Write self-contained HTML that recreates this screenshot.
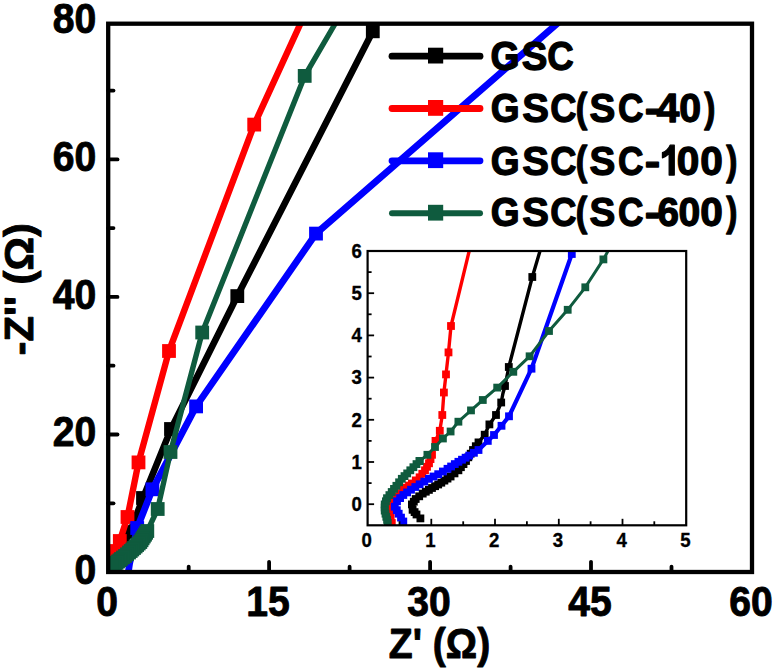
<!DOCTYPE html>
<html><head><meta charset="utf-8"><title>Nyquist plot</title>
<style>
html,body{margin:0;padding:0;background:#fff;}
body{width:774px;height:669px;overflow:hidden;}
svg{display:block;}
text{font-family:"Liberation Sans",sans-serif;font-weight:bold;fill:#000;}
</style></head><body>
<svg width="774" height="669" viewBox="0 0 774 669">
<rect width="774" height="669" fill="#fff"/>
<defs>
<clipPath id="cm"><rect x="108.2" y="23.7" width="643.8" height="548.3"/></clipPath>
<clipPath id="ci"><rect x="367.6" y="251.0" width="318.6" height="274.29999999999995"/></clipPath>
</defs>

<g clip-path="url(#cm)">
<polyline points="392.0,-6.2 372.8,31.3 237.3,296.1 171.0,429.0 143.0,498.0 130.0,532.0 122.0,548.0 117.0,557.0 113.0,563.0 111.0,567.0" fill="none" stroke="#000000" stroke-width="6.6" stroke-linejoin="round"/>
<rect x="365.9" y="24.4" width="13.8" height="13.8" fill="#000000"/>
<rect x="230.4" y="289.2" width="13.8" height="13.8" fill="#000000"/>
<rect x="164.1" y="422.1" width="13.8" height="13.8" fill="#000000"/>
<rect x="136.1" y="491.1" width="13.8" height="13.8" fill="#000000"/>
<rect x="123.1" y="525.1" width="13.8" height="13.8" fill="#000000"/>
<rect x="115.1" y="541.1" width="13.8" height="13.8" fill="#000000"/>
<rect x="110.1" y="550.1" width="13.8" height="13.8" fill="#000000"/>
<rect x="106.1" y="556.1" width="13.8" height="13.8" fill="#000000"/>
<polyline points="311.0,-4.0 300.3,24.0 254.2,124.6 169.0,351.0 138.5,462.4 127.5,517.0 119.8,541.0 116.0,551.0 113.0,558.0 111.0,563.0 109.5,567.0" fill="none" stroke="#ff0000" stroke-width="6.4" stroke-linejoin="round"/>
<rect x="247.3" y="117.7" width="13.8" height="13.8" fill="#ff0000"/>
<rect x="162.1" y="344.1" width="13.8" height="13.8" fill="#ff0000"/>
<rect x="131.6" y="455.5" width="13.8" height="13.8" fill="#ff0000"/>
<rect x="120.6" y="510.1" width="13.8" height="13.8" fill="#ff0000"/>
<rect x="112.9" y="534.1" width="13.8" height="13.8" fill="#ff0000"/>
<rect x="109.1" y="544.1" width="13.8" height="13.8" fill="#ff0000"/>
<rect x="106.1" y="551.1" width="13.8" height="13.8" fill="#ff0000"/>
<polyline points="601.5,-15.0 558.5,22.5 316.0,233.6 196.1,406.4 152.4,489.3 137.2,528.0 132.5,550.0 129.5,564.0 127.5,578.0" fill="none" stroke="#0000ff" stroke-width="6.8" stroke-linejoin="round"/>
<rect x="309.1" y="226.7" width="13.8" height="13.8" fill="#0000ff"/>
<rect x="189.2" y="399.5" width="13.8" height="13.8" fill="#0000ff"/>
<rect x="145.5" y="482.4" width="13.8" height="13.8" fill="#0000ff"/>
<rect x="130.3" y="521.1" width="13.8" height="13.8" fill="#0000ff"/>
<polyline points="345.0,-1.0 335.0,24.0 304.7,75.9 202.2,332.5 170.5,452.0 157.7,509.0 147.3,531.0 140.3,542.0 134.0,548.0 129.0,552.5 125.0,556.0 121.0,559.0 118.0,561.5 115.0,564.0 112.0,566.5 110.0,568.5" fill="none" stroke="#0f5b3e" stroke-width="5.4" stroke-linejoin="round"/>
<rect x="297.8" y="69.0" width="13.8" height="13.8" fill="#0f5b3e"/>
<rect x="195.3" y="325.6" width="13.8" height="13.8" fill="#0f5b3e"/>
<rect x="163.6" y="445.1" width="13.8" height="13.8" fill="#0f5b3e"/>
<rect x="150.8" y="502.1" width="13.8" height="13.8" fill="#0f5b3e"/>
<rect x="140.4" y="524.1" width="13.8" height="13.8" fill="#0f5b3e"/>
<rect x="139.2" y="525.9" width="13.8" height="13.8" fill="#0f5b3e"/>
<rect x="138.1" y="527.8" width="13.8" height="13.8" fill="#0f5b3e"/>
<rect x="136.9" y="529.6" width="13.8" height="13.8" fill="#0f5b3e"/>
<rect x="135.7" y="531.4" width="13.8" height="13.8" fill="#0f5b3e"/>
<rect x="134.6" y="533.3" width="13.8" height="13.8" fill="#0f5b3e"/>
<rect x="133.4" y="535.1" width="13.8" height="13.8" fill="#0f5b3e"/>
<rect x="131.8" y="536.6" width="13.8" height="13.8" fill="#0f5b3e"/>
<rect x="130.2" y="538.1" width="13.8" height="13.8" fill="#0f5b3e"/>
<rect x="128.7" y="539.6" width="13.8" height="13.8" fill="#0f5b3e"/>
<rect x="127.1" y="541.1" width="13.8" height="13.8" fill="#0f5b3e"/>
<rect x="125.4" y="542.6" width="13.8" height="13.8" fill="#0f5b3e"/>
<rect x="123.8" y="544.1" width="13.8" height="13.8" fill="#0f5b3e"/>
<rect x="122.1" y="545.6" width="13.8" height="13.8" fill="#0f5b3e"/>
<rect x="120.1" y="547.4" width="13.8" height="13.8" fill="#0f5b3e"/>
<rect x="118.1" y="549.1" width="13.8" height="13.8" fill="#0f5b3e"/>
<rect x="116.1" y="550.6" width="13.8" height="13.8" fill="#0f5b3e"/>
<rect x="114.1" y="552.1" width="13.8" height="13.8" fill="#0f5b3e"/>
<rect x="112.6" y="553.4" width="13.8" height="13.8" fill="#0f5b3e"/>
<rect x="111.1" y="554.6" width="13.8" height="13.8" fill="#0f5b3e"/>
<rect x="109.6" y="555.9" width="13.8" height="13.8" fill="#0f5b3e"/>
<rect x="108.1" y="557.1" width="13.8" height="13.8" fill="#0f5b3e"/>
<rect x="106.6" y="558.4" width="13.8" height="13.8" fill="#0f5b3e"/>
<rect x="105.1" y="559.6" width="13.8" height="13.8" fill="#0f5b3e"/>
</g>
<g stroke="#000" stroke-width="3.8" stroke-linecap="round">
<line x1="269.1" y1="572.0" x2="269.1" y2="561.8"/>
<line x1="430.1" y1="572.0" x2="430.1" y2="561.8"/>
<line x1="591.0" y1="572.0" x2="591.0" y2="561.8"/>
<line x1="188.7" y1="572.0" x2="188.7" y2="566.7"/>
<line x1="349.6" y1="572.0" x2="349.6" y2="566.7"/>
<line x1="510.6" y1="572.0" x2="510.6" y2="566.7"/>
<line x1="671.5" y1="572.0" x2="671.5" y2="566.7"/>
<line x1="108.2" y1="434.5" x2="117.5" y2="434.5"/>
<line x1="108.2" y1="296.9" x2="117.5" y2="296.9"/>
<line x1="108.2" y1="159.4" x2="117.5" y2="159.4"/>
<line x1="108.2" y1="503.3" x2="113.5" y2="503.3"/>
<line x1="108.2" y1="365.7" x2="113.5" y2="365.7"/>
<line x1="108.2" y1="228.1" x2="113.5" y2="228.1"/>
<line x1="108.2" y1="90.6" x2="113.5" y2="90.6"/>
</g>
<rect x="108.2" y="23.7" width="643.8" height="548.3" fill="none" stroke="#000" stroke-width="4.3"/>
<text transform="translate(107.2,616.0) scale(0.94,1)" font-size="41.6" text-anchor="middle" stroke="#000" stroke-width="0.9" stroke-linejoin="round">0</text>
<text transform="translate(268.1,616.0) scale(0.94,1)" font-size="41.6" text-anchor="middle" stroke="#000" stroke-width="0.9" stroke-linejoin="round">15</text>
<text transform="translate(429.1,616.0) scale(0.94,1)" font-size="41.6" text-anchor="middle" stroke="#000" stroke-width="0.9" stroke-linejoin="round">30</text>
<text transform="translate(590.0,616.0) scale(0.94,1)" font-size="41.6" text-anchor="middle" stroke="#000" stroke-width="0.9" stroke-linejoin="round">45</text>
<text transform="translate(751.0,616.0) scale(0.94,1)" font-size="41.6" text-anchor="middle" stroke="#000" stroke-width="0.9" stroke-linejoin="round">60</text>
<text transform="translate(96.3,583.6) scale(0.94,1)" font-size="41.6" text-anchor="end" stroke="#000" stroke-width="0.9" stroke-linejoin="round">0</text>
<text transform="translate(96.3,446.1) scale(0.94,1)" font-size="41.6" text-anchor="end" stroke="#000" stroke-width="0.9" stroke-linejoin="round">20</text>
<text transform="translate(96.3,308.5) scale(0.94,1)" font-size="41.6" text-anchor="end" stroke="#000" stroke-width="0.9" stroke-linejoin="round">40</text>
<text transform="translate(96.3,171.0) scale(0.94,1)" font-size="41.6" text-anchor="end" stroke="#000" stroke-width="0.9" stroke-linejoin="round">60</text>
<text transform="translate(96.3,33.4) scale(0.94,1)" font-size="41.6" text-anchor="end" stroke="#000" stroke-width="0.9" stroke-linejoin="round">80</text>
<text transform="translate(439.5,658.0) scale(0.94,1)" font-size="41.6" text-anchor="middle" stroke="#000" stroke-width="0.9" stroke-linejoin="round">Z' (&#937;)</text>
<text transform="translate(32.5,289.3) rotate(-90) scale(1.005,1)" font-size="41.6" text-anchor="middle" stroke="#000" stroke-width="0.9" stroke-linejoin="round">-Z'' (&#937;)</text>
<line x1="392" y1="56.2" x2="480" y2="56.2" stroke="#000000" stroke-width="6.8" stroke-linecap="round"/>
<rect x="428.0" y="47.7" width="15.2" height="15.8" fill="#000000"/>
<text transform="translate(490.57,69.50) scale(0.9027,1)" font-size="41.5" stroke="#000" stroke-width="1.3" stroke-linejoin="round">G</text>
<text transform="translate(521.67,69.50) scale(0.9265,1)" font-size="41.5" stroke="#000" stroke-width="1.3" stroke-linejoin="round">S</text>
<text transform="translate(547.34,69.50) scale(0.8847,1)" font-size="41.5" stroke="#000" stroke-width="1.3" stroke-linejoin="round">C</text>
<line x1="392" y1="108.5" x2="480" y2="108.5" stroke="#ff0000" stroke-width="6.8" stroke-linecap="round"/>
<rect x="428.0" y="100.0" width="15.2" height="15.8" fill="#ff0000"/>
<text transform="translate(490.86,122.20) scale(0.8942,1)" font-size="41.5" stroke="#000" stroke-width="1.3" stroke-linejoin="round">G</text>
<text transform="translate(522.25,122.20) scale(0.9651,1)" font-size="41.5" stroke="#000" stroke-width="1.3" stroke-linejoin="round">S</text>
<text transform="translate(550.13,122.20) scale(0.8758,1)" font-size="41.5" stroke="#000" stroke-width="1.3" stroke-linejoin="round">C</text>
<text transform="translate(575.65,122.20) scale(0.8325,1)" font-size="41.5" stroke="#000" stroke-width="1.3" stroke-linejoin="round">(</text>
<text transform="translate(589.39,122.20) scale(0.9329,1)" font-size="41.5" stroke="#000" stroke-width="1.3" stroke-linejoin="round">S</text>
<text transform="translate(617.99,122.20) scale(0.8522,1)" font-size="41.5" stroke="#000" stroke-width="1.3" stroke-linejoin="round">C</text>
<text transform="translate(644.68,122.20) scale(1.1199,1)" font-size="41.5" stroke="#000" stroke-width="1.3" stroke-linejoin="round">-</text>
<text transform="translate(656.56,122.20) scale(0.9909,1)" font-size="41.5" stroke="#000" stroke-width="1.3" stroke-linejoin="round">4</text>
<text transform="translate(679.31,122.20) scale(0.9459,1)" font-size="41.5" stroke="#000" stroke-width="1.3" stroke-linejoin="round">0</text>
<text transform="translate(704.30,122.20) scale(0.8052,1)" font-size="41.5" stroke="#000" stroke-width="1.3" stroke-linejoin="round">)</text>
<line x1="392" y1="160.8" x2="480" y2="160.8" stroke="#0000ff" stroke-width="6.8" stroke-linecap="round"/>
<rect x="428.0" y="152.3" width="15.2" height="15.8" fill="#0000ff"/>
<text transform="translate(490.86,174.70) scale(0.8942,1)" font-size="41.5" stroke="#000" stroke-width="1.3" stroke-linejoin="round">G</text>
<text transform="translate(522.25,174.70) scale(0.9651,1)" font-size="41.5" stroke="#000" stroke-width="1.3" stroke-linejoin="round">S</text>
<text transform="translate(550.13,174.70) scale(0.8758,1)" font-size="41.5" stroke="#000" stroke-width="1.3" stroke-linejoin="round">C</text>
<text transform="translate(575.65,174.70) scale(0.8325,1)" font-size="41.5" stroke="#000" stroke-width="1.3" stroke-linejoin="round">(</text>
<text transform="translate(589.39,174.70) scale(0.9329,1)" font-size="41.5" stroke="#000" stroke-width="1.3" stroke-linejoin="round">S</text>
<text transform="translate(617.99,174.70) scale(0.8522,1)" font-size="41.5" stroke="#000" stroke-width="1.3" stroke-linejoin="round">C</text>
<text transform="translate(644.68,174.70) scale(1.1199,1)" font-size="41.5" stroke="#000" stroke-width="1.3" stroke-linejoin="round">-</text>
<path transform="translate(659.41,175.00) scale(0.01848,-0.02026)" d="M806 0H525V1059Q371 915 162 846V1101Q272 1137 401 1237.5Q530 1338 578 1472H806Z" fill="#000" stroke="#000" stroke-width="62" stroke-linejoin="round"/>
<text transform="translate(676.84,174.70) scale(0.9783,1)" font-size="41.5" stroke="#000" stroke-width="1.3" stroke-linejoin="round">0</text>
<text transform="translate(700.34,174.70) scale(0.9783,1)" font-size="41.5" stroke="#000" stroke-width="1.3" stroke-linejoin="round">0</text>
<text transform="translate(726.20,174.70) scale(0.8052,1)" font-size="41.5" stroke="#000" stroke-width="1.3" stroke-linejoin="round">)</text>
<line x1="392" y1="213.3" x2="480" y2="213.3" stroke="#0f5b3e" stroke-width="6.0" stroke-linecap="round"/>
<rect x="428.0" y="204.8" width="15.2" height="15.8" fill="#0f5b3e"/>
<text transform="translate(490.86,225.80) scale(0.8942,1)" font-size="41.5" stroke="#000" stroke-width="1.3" stroke-linejoin="round">G</text>
<text transform="translate(522.25,225.80) scale(0.9651,1)" font-size="41.5" stroke="#000" stroke-width="1.3" stroke-linejoin="round">S</text>
<text transform="translate(550.13,225.80) scale(0.8758,1)" font-size="41.5" stroke="#000" stroke-width="1.3" stroke-linejoin="round">C</text>
<text transform="translate(575.65,225.80) scale(0.8325,1)" font-size="41.5" stroke="#000" stroke-width="1.3" stroke-linejoin="round">(</text>
<text transform="translate(589.39,225.80) scale(0.9329,1)" font-size="41.5" stroke="#000" stroke-width="1.3" stroke-linejoin="round">S</text>
<text transform="translate(617.99,225.80) scale(0.8522,1)" font-size="41.5" stroke="#000" stroke-width="1.3" stroke-linejoin="round">C</text>
<text transform="translate(644.68,225.80) scale(1.1199,1)" font-size="41.5" stroke="#000" stroke-width="1.3" stroke-linejoin="round">-</text>
<text transform="translate(657.61,225.80) scale(0.9297,1)" font-size="41.5" stroke="#000" stroke-width="1.3" stroke-linejoin="round">6</text>
<text transform="translate(678.51,225.80) scale(0.9419,1)" font-size="41.5" stroke="#000" stroke-width="1.3" stroke-linejoin="round">0</text>
<text transform="translate(700.34,225.80) scale(0.9783,1)" font-size="41.5" stroke="#000" stroke-width="1.3" stroke-linejoin="round">0</text>
<text transform="translate(726.20,225.80) scale(0.8052,1)" font-size="41.5" stroke="#000" stroke-width="1.3" stroke-linejoin="round">)</text>
<g clip-path="url(#ci)">
<polyline points="545.0,234.0 540.0,251.0 532.3,277.0 508.8,367.0 505.0,386.0 502.9,393.5 501.2,402.5 496.0,415.0 489.4,424.4 484.7,434.7 478.5,442.4 473.0,450.0 466.0,461.0 458.4,470.3 450.6,476.5 441.3,482.7 432.0,488.0 422.7,493.6 415.7,499.0 411.9,504.4 412.6,509.8 416.5,514.5 420.4,518.4" fill="none" stroke="#000000" stroke-width="3.4" stroke-linejoin="round"/>
<rect x="528.4" y="273.1" width="7.8" height="7.8" fill="#000000"/>
<rect x="504.9" y="363.1" width="7.8" height="7.8" fill="#000000"/>
<rect x="501.1" y="382.1" width="7.8" height="7.8" fill="#000000"/>
<rect x="497.3" y="398.6" width="7.8" height="7.8" fill="#000000"/>
<rect x="492.1" y="411.1" width="7.8" height="7.8" fill="#000000"/>
<rect x="485.5" y="420.5" width="7.8" height="7.8" fill="#000000"/>
<rect x="480.8" y="430.8" width="7.8" height="7.8" fill="#000000"/>
<rect x="474.6" y="438.5" width="7.8" height="7.8" fill="#000000"/>
<rect x="471.9" y="442.3" width="7.8" height="7.8" fill="#000000"/>
<rect x="469.1" y="446.1" width="7.8" height="7.8" fill="#000000"/>
<rect x="466.8" y="449.8" width="7.8" height="7.8" fill="#000000"/>
<rect x="464.4" y="453.4" width="7.8" height="7.8" fill="#000000"/>
<rect x="462.1" y="457.1" width="7.8" height="7.8" fill="#000000"/>
<rect x="459.6" y="460.2" width="7.8" height="7.8" fill="#000000"/>
<rect x="457.0" y="463.3" width="7.8" height="7.8" fill="#000000"/>
<rect x="454.5" y="466.4" width="7.8" height="7.8" fill="#000000"/>
<rect x="450.6" y="469.5" width="7.8" height="7.8" fill="#000000"/>
<rect x="446.7" y="472.6" width="7.8" height="7.8" fill="#000000"/>
<rect x="443.6" y="474.7" width="7.8" height="7.8" fill="#000000"/>
<rect x="440.5" y="476.7" width="7.8" height="7.8" fill="#000000"/>
<rect x="437.4" y="478.8" width="7.8" height="7.8" fill="#000000"/>
<rect x="434.3" y="480.6" width="7.8" height="7.8" fill="#000000"/>
<rect x="431.2" y="482.3" width="7.8" height="7.8" fill="#000000"/>
<rect x="428.1" y="484.1" width="7.8" height="7.8" fill="#000000"/>
<rect x="425.0" y="486.0" width="7.8" height="7.8" fill="#000000"/>
<rect x="421.9" y="487.8" width="7.8" height="7.8" fill="#000000"/>
<rect x="418.8" y="489.7" width="7.8" height="7.8" fill="#000000"/>
<rect x="415.3" y="492.4" width="7.8" height="7.8" fill="#000000"/>
<rect x="411.8" y="495.1" width="7.8" height="7.8" fill="#000000"/>
<rect x="409.9" y="497.8" width="7.8" height="7.8" fill="#000000"/>
<rect x="408.0" y="500.5" width="7.8" height="7.8" fill="#000000"/>
<rect x="408.7" y="505.9" width="7.8" height="7.8" fill="#000000"/>
<rect x="410.7" y="508.2" width="7.8" height="7.8" fill="#000000"/>
<rect x="412.6" y="510.6" width="7.8" height="7.8" fill="#000000"/>
<rect x="416.5" y="514.5" width="7.8" height="7.8" fill="#000000"/>
<polyline points="473.3,234.0 469.2,251.0 451.0,326.0 448.5,352.4 446.0,374.4 443.9,392.5 442.3,415.0 439.8,430.8 435.5,440.9 432.0,454.8 429.0,463.3 425.0,470.3 419.6,477.3 411.9,483.5 403.3,489.7 397.0,496.7 391.2,504.4 390.0,512.0 390.6,518.0 391.8,523.0" fill="none" stroke="#ff0000" stroke-width="3.4" stroke-linejoin="round"/>
<rect x="447.1" y="322.1" width="7.8" height="7.8" fill="#ff0000"/>
<rect x="444.6" y="348.5" width="7.8" height="7.8" fill="#ff0000"/>
<rect x="442.1" y="370.5" width="7.8" height="7.8" fill="#ff0000"/>
<rect x="440.0" y="388.6" width="7.8" height="7.8" fill="#ff0000"/>
<rect x="438.4" y="411.1" width="7.8" height="7.8" fill="#ff0000"/>
<rect x="435.9" y="426.9" width="7.8" height="7.8" fill="#ff0000"/>
<rect x="431.6" y="437.0" width="7.8" height="7.8" fill="#ff0000"/>
<rect x="428.1" y="450.9" width="7.8" height="7.8" fill="#ff0000"/>
<rect x="426.6" y="455.2" width="7.8" height="7.8" fill="#ff0000"/>
<rect x="425.1" y="459.4" width="7.8" height="7.8" fill="#ff0000"/>
<rect x="423.1" y="462.9" width="7.8" height="7.8" fill="#ff0000"/>
<rect x="421.1" y="466.4" width="7.8" height="7.8" fill="#ff0000"/>
<rect x="418.4" y="469.9" width="7.8" height="7.8" fill="#ff0000"/>
<rect x="415.7" y="473.4" width="7.8" height="7.8" fill="#ff0000"/>
<rect x="411.9" y="476.5" width="7.8" height="7.8" fill="#ff0000"/>
<rect x="408.0" y="479.6" width="7.8" height="7.8" fill="#ff0000"/>
<rect x="405.1" y="481.7" width="7.8" height="7.8" fill="#ff0000"/>
<rect x="402.3" y="483.7" width="7.8" height="7.8" fill="#ff0000"/>
<rect x="399.4" y="485.8" width="7.8" height="7.8" fill="#ff0000"/>
<rect x="396.2" y="489.3" width="7.8" height="7.8" fill="#ff0000"/>
<rect x="393.1" y="492.8" width="7.8" height="7.8" fill="#ff0000"/>
<rect x="390.2" y="496.6" width="7.8" height="7.8" fill="#ff0000"/>
<rect x="387.3" y="500.5" width="7.8" height="7.8" fill="#ff0000"/>
<rect x="386.7" y="504.3" width="7.8" height="7.8" fill="#ff0000"/>
<rect x="386.1" y="508.1" width="7.8" height="7.8" fill="#ff0000"/>
<rect x="386.4" y="511.1" width="7.8" height="7.8" fill="#ff0000"/>
<rect x="386.7" y="514.1" width="7.8" height="7.8" fill="#ff0000"/>
<rect x="387.9" y="519.1" width="7.8" height="7.8" fill="#ff0000"/>
<polyline points="577.0,239.0 571.8,254.0 531.5,368.7 509.0,416.3 501.5,425.8 494.0,435.0 487.8,440.9 478.5,450.0 469.2,455.6 458.4,461.8 447.5,468.8 438.2,474.2 428.9,478.8 419.6,484.3 411.0,489.7 403.3,495.0 397.0,501.3 394.8,506.7 398.7,513.7 403.3,521.5" fill="none" stroke="#0000ff" stroke-width="4.2" stroke-linejoin="round"/>
<rect x="567.9" y="250.1" width="7.8" height="7.8" fill="#0000ff"/>
<rect x="527.6" y="364.8" width="7.8" height="7.8" fill="#0000ff"/>
<rect x="505.1" y="412.4" width="7.8" height="7.8" fill="#0000ff"/>
<rect x="497.6" y="421.9" width="7.8" height="7.8" fill="#0000ff"/>
<rect x="490.1" y="431.1" width="7.8" height="7.8" fill="#0000ff"/>
<rect x="483.9" y="437.0" width="7.8" height="7.8" fill="#0000ff"/>
<rect x="474.6" y="446.1" width="7.8" height="7.8" fill="#0000ff"/>
<rect x="470.0" y="448.9" width="7.8" height="7.8" fill="#0000ff"/>
<rect x="465.3" y="451.7" width="7.8" height="7.8" fill="#0000ff"/>
<rect x="461.7" y="453.8" width="7.8" height="7.8" fill="#0000ff"/>
<rect x="458.1" y="455.8" width="7.8" height="7.8" fill="#0000ff"/>
<rect x="454.5" y="457.9" width="7.8" height="7.8" fill="#0000ff"/>
<rect x="450.9" y="460.2" width="7.8" height="7.8" fill="#0000ff"/>
<rect x="447.2" y="462.6" width="7.8" height="7.8" fill="#0000ff"/>
<rect x="443.6" y="464.9" width="7.8" height="7.8" fill="#0000ff"/>
<rect x="439.0" y="467.6" width="7.8" height="7.8" fill="#0000ff"/>
<rect x="434.3" y="470.3" width="7.8" height="7.8" fill="#0000ff"/>
<rect x="429.6" y="472.6" width="7.8" height="7.8" fill="#0000ff"/>
<rect x="425.0" y="474.9" width="7.8" height="7.8" fill="#0000ff"/>
<rect x="420.4" y="477.7" width="7.8" height="7.8" fill="#0000ff"/>
<rect x="415.7" y="480.4" width="7.8" height="7.8" fill="#0000ff"/>
<rect x="411.4" y="483.1" width="7.8" height="7.8" fill="#0000ff"/>
<rect x="407.1" y="485.8" width="7.8" height="7.8" fill="#0000ff"/>
<rect x="403.2" y="488.5" width="7.8" height="7.8" fill="#0000ff"/>
<rect x="399.4" y="491.1" width="7.8" height="7.8" fill="#0000ff"/>
<rect x="396.2" y="494.2" width="7.8" height="7.8" fill="#0000ff"/>
<rect x="393.1" y="497.4" width="7.8" height="7.8" fill="#0000ff"/>
<rect x="390.9" y="502.8" width="7.8" height="7.8" fill="#0000ff"/>
<rect x="392.9" y="506.3" width="7.8" height="7.8" fill="#0000ff"/>
<rect x="394.8" y="509.8" width="7.8" height="7.8" fill="#0000ff"/>
<rect x="397.1" y="513.7" width="7.8" height="7.8" fill="#0000ff"/>
<rect x="399.4" y="517.6" width="7.8" height="7.8" fill="#0000ff"/>
<polyline points="612.0,243.0 608.0,251.0 603.4,259.4 585.3,287.3 567.7,309.8 549.0,331.0 529.6,356.3 513.3,371.8 497.2,387.6 482.8,400.0 471.0,410.4 458.4,421.7 450.6,431.5 442.9,438.5 435.0,447.0 427.4,454.8 419.6,461.0 413.4,467.2 407.2,473.4 401.8,478.8 396.4,485.8 391.7,492.0 387.0,498.2 384.7,504.4 384.7,510.6 386.3,516.8 387.8,523.0" fill="none" stroke="#0f5b3e" stroke-width="3.0" stroke-linejoin="round"/>
<rect x="599.5" y="255.5" width="7.8" height="7.8" fill="#0f5b3e"/>
<rect x="581.4" y="283.4" width="7.8" height="7.8" fill="#0f5b3e"/>
<rect x="563.8" y="305.9" width="7.8" height="7.8" fill="#0f5b3e"/>
<rect x="545.1" y="327.1" width="7.8" height="7.8" fill="#0f5b3e"/>
<rect x="525.7" y="352.4" width="7.8" height="7.8" fill="#0f5b3e"/>
<rect x="509.4" y="367.9" width="7.8" height="7.8" fill="#0f5b3e"/>
<rect x="493.3" y="383.7" width="7.8" height="7.8" fill="#0f5b3e"/>
<rect x="478.9" y="396.1" width="7.8" height="7.8" fill="#0f5b3e"/>
<rect x="467.1" y="406.5" width="7.8" height="7.8" fill="#0f5b3e"/>
<rect x="454.5" y="417.8" width="7.8" height="7.8" fill="#0f5b3e"/>
<rect x="446.7" y="427.6" width="7.8" height="7.8" fill="#0f5b3e"/>
<rect x="439.0" y="434.6" width="7.8" height="7.8" fill="#0f5b3e"/>
<rect x="431.1" y="443.1" width="7.8" height="7.8" fill="#0f5b3e"/>
<rect x="423.5" y="450.9" width="7.8" height="7.8" fill="#0f5b3e"/>
<rect x="415.7" y="457.1" width="7.8" height="7.8" fill="#0f5b3e"/>
<rect x="415.7" y="457.1" width="7.8" height="7.8" fill="#0f5b3e"/>
<rect x="412.6" y="460.2" width="7.8" height="7.8" fill="#0f5b3e"/>
<rect x="409.5" y="463.3" width="7.8" height="7.8" fill="#0f5b3e"/>
<rect x="406.4" y="466.4" width="7.8" height="7.8" fill="#0f5b3e"/>
<rect x="403.3" y="469.5" width="7.8" height="7.8" fill="#0f5b3e"/>
<rect x="400.6" y="472.2" width="7.8" height="7.8" fill="#0f5b3e"/>
<rect x="397.9" y="474.9" width="7.8" height="7.8" fill="#0f5b3e"/>
<rect x="395.2" y="478.4" width="7.8" height="7.8" fill="#0f5b3e"/>
<rect x="392.5" y="481.9" width="7.8" height="7.8" fill="#0f5b3e"/>
<rect x="390.1" y="485.0" width="7.8" height="7.8" fill="#0f5b3e"/>
<rect x="387.8" y="488.1" width="7.8" height="7.8" fill="#0f5b3e"/>
<rect x="385.5" y="491.2" width="7.8" height="7.8" fill="#0f5b3e"/>
<rect x="383.1" y="494.3" width="7.8" height="7.8" fill="#0f5b3e"/>
<rect x="382.0" y="497.4" width="7.8" height="7.8" fill="#0f5b3e"/>
<rect x="380.8" y="500.5" width="7.8" height="7.8" fill="#0f5b3e"/>
<rect x="380.8" y="503.6" width="7.8" height="7.8" fill="#0f5b3e"/>
<rect x="380.8" y="506.7" width="7.8" height="7.8" fill="#0f5b3e"/>
<rect x="381.6" y="509.8" width="7.8" height="7.8" fill="#0f5b3e"/>
<rect x="382.4" y="512.9" width="7.8" height="7.8" fill="#0f5b3e"/>
<rect x="383.2" y="516.0" width="7.8" height="7.8" fill="#0f5b3e"/>
<rect x="383.9" y="519.1" width="7.8" height="7.8" fill="#0f5b3e"/>
</g>
<g stroke="#000" stroke-width="1.8">
<line x1="431.3" y1="525.3" x2="431.3" y2="518.8"/>
<line x1="495.0" y1="525.3" x2="495.0" y2="518.8"/>
<line x1="558.8" y1="525.3" x2="558.8" y2="518.8"/>
<line x1="622.5" y1="525.3" x2="622.5" y2="518.8"/>
<line x1="399.5" y1="525.3" x2="399.5" y2="521.3"/>
<line x1="463.2" y1="525.3" x2="463.2" y2="521.3"/>
<line x1="526.9" y1="525.3" x2="526.9" y2="521.3"/>
<line x1="590.6" y1="525.3" x2="590.6" y2="521.3"/>
<line x1="654.3" y1="525.3" x2="654.3" y2="521.3"/>
<line x1="367.6" y1="504.2" x2="374.1" y2="504.2"/>
<line x1="367.6" y1="462.0" x2="374.1" y2="462.0"/>
<line x1="367.6" y1="419.8" x2="374.1" y2="419.8"/>
<line x1="367.6" y1="377.6" x2="374.1" y2="377.6"/>
<line x1="367.6" y1="335.4" x2="374.1" y2="335.4"/>
<line x1="367.6" y1="293.2" x2="374.1" y2="293.2"/>
<line x1="367.6" y1="483.1" x2="371.6" y2="483.1"/>
<line x1="367.6" y1="440.9" x2="371.6" y2="440.9"/>
<line x1="367.6" y1="398.7" x2="371.6" y2="398.7"/>
<line x1="367.6" y1="356.5" x2="371.6" y2="356.5"/>
<line x1="367.6" y1="314.3" x2="371.6" y2="314.3"/>
<line x1="367.6" y1="272.1" x2="371.6" y2="272.1"/>
</g>
<rect x="367.6" y="251.0" width="318.6" height="274.29999999999995" fill="none" stroke="#000" stroke-width="2.2"/>
<text transform="translate(366.7,547.4) scale(0.95,1)" font-size="19.6" text-anchor="middle" stroke="#000" stroke-width="0.35" stroke-linejoin="round">0</text>
<text transform="translate(430.4,547.4) scale(0.95,1)" font-size="19.6" text-anchor="middle" stroke="#000" stroke-width="0.35" stroke-linejoin="round">1</text>
<text transform="translate(494.1,547.4) scale(0.95,1)" font-size="19.6" text-anchor="middle" stroke="#000" stroke-width="0.35" stroke-linejoin="round">2</text>
<text transform="translate(557.9,547.4) scale(0.95,1)" font-size="19.6" text-anchor="middle" stroke="#000" stroke-width="0.35" stroke-linejoin="round">3</text>
<text transform="translate(621.6,547.4) scale(0.95,1)" font-size="19.6" text-anchor="middle" stroke="#000" stroke-width="0.35" stroke-linejoin="round">4</text>
<text transform="translate(685.3,547.4) scale(0.95,1)" font-size="19.6" text-anchor="middle" stroke="#000" stroke-width="0.35" stroke-linejoin="round">5</text>
<text transform="translate(361.8,511.0) scale(0.95,1)" font-size="19.6" text-anchor="end" stroke="#000" stroke-width="0.35" stroke-linejoin="round">0</text>
<text transform="translate(361.8,468.8) scale(0.95,1)" font-size="19.6" text-anchor="end" stroke="#000" stroke-width="0.35" stroke-linejoin="round">1</text>
<text transform="translate(361.8,426.6) scale(0.95,1)" font-size="19.6" text-anchor="end" stroke="#000" stroke-width="0.35" stroke-linejoin="round">2</text>
<text transform="translate(361.8,384.4) scale(0.95,1)" font-size="19.6" text-anchor="end" stroke="#000" stroke-width="0.35" stroke-linejoin="round">3</text>
<text transform="translate(361.8,342.2) scale(0.95,1)" font-size="19.6" text-anchor="end" stroke="#000" stroke-width="0.35" stroke-linejoin="round">4</text>
<text transform="translate(361.8,300.0) scale(0.95,1)" font-size="19.6" text-anchor="end" stroke="#000" stroke-width="0.35" stroke-linejoin="round">5</text>
<text transform="translate(361.8,257.8) scale(0.95,1)" font-size="19.6" text-anchor="end" stroke="#000" stroke-width="0.35" stroke-linejoin="round">6</text>
</svg></body></html>
